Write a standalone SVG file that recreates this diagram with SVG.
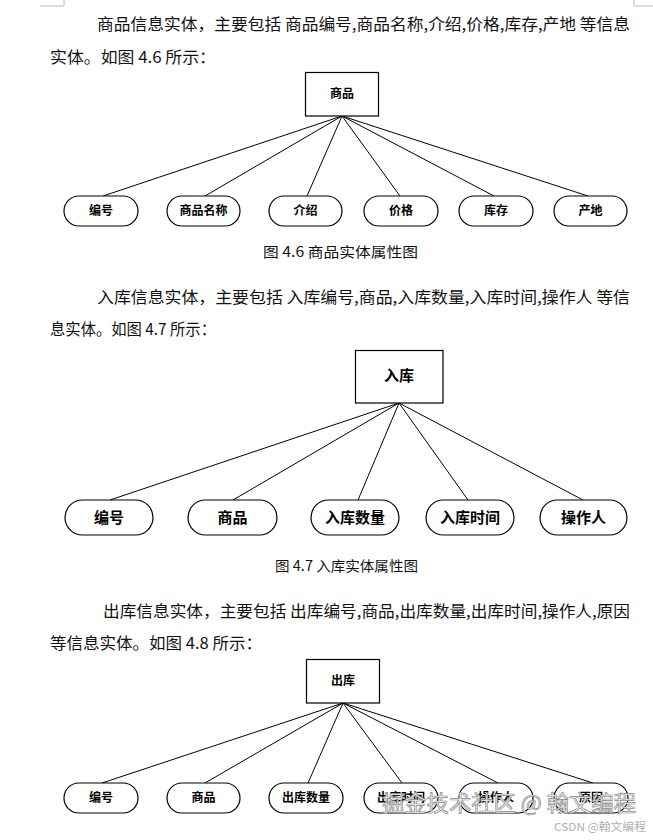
<svg xmlns="http://www.w3.org/2000/svg" width="653" height="840" viewBox="0 0 653 840">
<style>
.body{font-family:"Noto Sans CJK SC","Liberation Sans",sans-serif;font-size:16px;fill:#111}
.cap{font-family:"Noto Sans CJK SC","Liberation Sans",sans-serif;font-size:14px;fill:#111}
.node{fill:#fff;stroke:#000;stroke-width:1.2}
.lbl{font-family:"Liberation Serif","Noto Sans CJK SC",serif;font-weight:bold;font-size:12px;fill:#000;text-anchor:middle;dominant-baseline:central}
.lbl2{font-family:"Liberation Serif","Noto Sans CJK SC",serif;font-weight:bold;font-size:15px;fill:#000;text-anchor:middle;dominant-baseline:central}
.edge{stroke:#000;stroke-width:1;fill:none}
.mark{stroke:#bbb;stroke-width:1;fill:none}
</style>
<rect width="653" height="840" fill="#fff"/>
<path class="mark" d="M40,6 H64 V0 M634,0 V6 H653"/>

<text class="body" x="97" y="30" textLength="533" lengthAdjust="spacingAndGlyphs">商品信息实体，主要包括 商品编号,商品名称,介绍,价格,库存,产地 等信息</text>
<text class="body" x="50" y="63" textLength="166" lengthAdjust="spacingAndGlyphs">实体。如图 4.6 所示：</text>
<text class="cap" x="263" y="257" textLength="155" lengthAdjust="spacingAndGlyphs">图 4.6 商品实体属性图</text>

<text class="body" x="97" y="303" textLength="533" lengthAdjust="spacingAndGlyphs">入库信息实体，主要包括 入库编号,商品,入库数量,入库时间,操作人 等信</text>
<text class="body" x="50" y="335" textLength="166" lengthAdjust="spacingAndGlyphs">息实体。如图 4.7 所示：</text>
<text class="cap" x="275" y="571" textLength="143" lengthAdjust="spacingAndGlyphs">图 4.7 入库实体属性图</text>

<text class="body" x="103" y="617" textLength="527" lengthAdjust="spacingAndGlyphs">出库信息实体，主要包括 出库编号,商品,出库数量,出库时间,操作人,原因</text>
<text class="body" x="50" y="649" textLength="212" lengthAdjust="spacingAndGlyphs">等信息实体。如图 4.8 所示：</text>

<g id="connectors">
<path class="edge" d="M342,116 L103,196 M342,116 L205,196 M342,116 L307,196 M342,116 L400,196 M342,116 L494,196 M342,116 L588,196"/>
<path class="edge" d="M399,403 L110,500 M399,403 L233,500 M399,403 L358,500 M399,403 L468,500 M399,403 L583,500"/>
<path class="edge" d="M343,703 L102,783 M343,703 L205,783 M343,703 L308,783 M343,703 L402,783 M343,703 L498,783 M343,703 L593,783"/>
</g>

<g id="e1"><rect class="node" x="305.5" y="72.5" width="73" height="43.5"/><text class="lbl" x="342" y="94">商品</text></g>
<g id="a1_1"><rect class="node" x="64" y="196" width="74" height="30" rx="15"/><text class="lbl" x="101" y="211">编号</text></g>
<g id="a1_2"><rect class="node" x="167" y="196" width="73" height="30" rx="15"/><text class="lbl" x="203.5" y="211">商品名称</text></g>
<g id="a1_3"><rect class="node" x="269" y="196" width="73" height="30" rx="15"/><text class="lbl" x="305.5" y="211">介绍</text></g>
<g id="a1_4"><rect class="node" x="364" y="196" width="74" height="30" rx="15"/><text class="lbl" x="401" y="211">价格</text></g>
<g id="a1_5"><rect class="node" x="459" y="196" width="74" height="30" rx="15"/><text class="lbl" x="496" y="211">库存</text></g>
<g id="a1_6"><rect class="node" x="554" y="196" width="73" height="30" rx="15"/><text class="lbl" x="590.5" y="211">产地</text></g>

<g id="e2"><rect class="node" x="355.5" y="350.5" width="87.5" height="52.5"/><text class="lbl2" x="399" y="376">入库</text></g>
<g id="a2_1"><rect class="node" x="65" y="500" width="88" height="35" rx="17.5"/><text class="lbl2" x="109" y="517.5">编号</text></g>
<g id="a2_2"><rect class="node" x="188" y="500" width="89" height="35" rx="17.5"/><text class="lbl2" x="232.5" y="517.5">商品</text></g>
<g id="a2_3"><rect class="node" x="311" y="500" width="88" height="35" rx="17.5"/><text class="lbl2" x="355" y="517.5">入库数量</text></g>
<g id="a2_4"><rect class="node" x="426" y="500" width="88" height="35" rx="17.5"/><text class="lbl2" x="470" y="517.5">入库时间</text></g>
<g id="a2_5"><rect class="node" x="540" y="500" width="87" height="35" rx="17.5"/><text class="lbl2" x="583.5" y="517.5">操作人</text></g>

<g id="e3"><rect class="node" x="306.5" y="659.5" width="73" height="43.5"/><text class="lbl" x="343" y="681">出库</text></g>
<g id="a3_1"><rect class="node" x="64" y="783" width="74" height="30" rx="15"/><text class="lbl" x="101" y="798">编号</text></g>
<g id="a3_2"><rect class="node" x="167" y="783" width="73" height="30" rx="15"/><text class="lbl" x="203.5" y="798">商品</text></g>
<g id="a3_3"><rect class="node" x="269" y="783" width="74" height="30" rx="15"/><text class="lbl" x="306" y="798">出库数量</text></g>
<g id="a3_4"><rect class="node" x="364" y="783" width="74" height="30" rx="15"/><text class="lbl" x="401" y="798">出库时间</text></g>
<g id="a3_5"><rect class="node" x="459" y="783" width="74" height="30" rx="15"/><text class="lbl" x="496" y="798">操作人</text></g>
<g id="a3_6"><rect class="node" x="554" y="783" width="74" height="30" rx="15"/><text class="lbl" x="591" y="798">原因</text></g>

<text x="382" y="811" font-family="Noto Sans CJK SC, sans-serif" font-size="22" fill="#f4f4f4" stroke="#8a8a8a" stroke-width="0.7" textLength="254" lengthAdjust="spacingAndGlyphs">掘金技术社区 @ 翰文编程</text>
<text x="554" y="831" font-family="Noto Sans CJK SC, sans-serif" font-size="11" fill="#b0b0b0" textLength="92" lengthAdjust="spacingAndGlyphs">CSDN @翰文编程</text>
</svg>
